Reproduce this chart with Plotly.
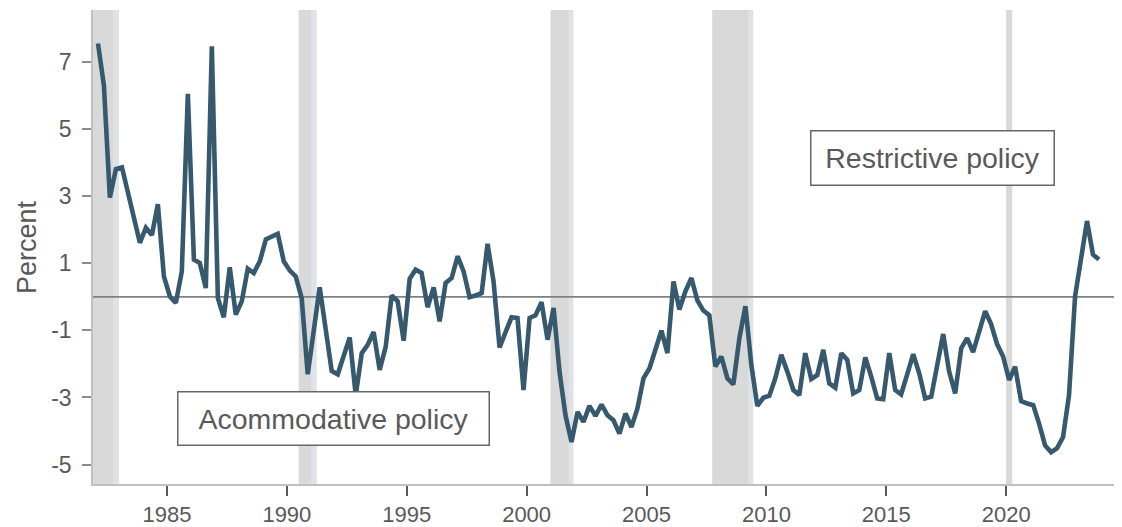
import pandas as pd
import plotly.graph_objects as go

# Quarterly policy-stance measure, 1982Q1 - 2023Q4 (percent)
first_quarter = "1982Q1"
last_quarter = "2023Q4"
stance = [
    7.55, 6.30, 2.96, 3.81, 3.86, 3.16, 2.43, 1.61, 2.06, 1.84,
    2.76, 0.61, 0.01, -0.18, 0.76, 6.05, 1.11, 1.01, 0.26, 7.47,
    -0.04, -0.61, 0.88, -0.53, -0.13, 0.84, 0.71, 1.06, 1.71, 1.81,
    1.88, 1.06, 0.78, 0.61, -0.04, -2.31, -1.01, 0.28, -0.96, -2.21,
    -2.31, -1.76, -1.21, -2.93, -1.68, -1.43, -1.05, -2.18, -1.48, 0.04,
    -0.13, -1.31, 0.54, 0.81, 0.71, -0.31, 0.28, -0.73,
    0.41, 0.56, 1.21, 0.76, -0.01, 0.04, 0.11, 1.58, 0.46, -1.51,
    -1.08, -0.61, -0.63, -2.78, -0.63, -0.55, -0.16, -1.28, -0.33, -2.23,
    -3.53, -4.33, -3.43, -3.73, -3.25, -3.55, -3.21, -3.53,
    -3.68, -4.08, -3.48, -3.88, -3.33, -2.43, -2.13, -1.61, -1.01, -1.68,
    0.46, -0.38, 0.16, 0.56, -0.11, -0.41, -0.55, -2.08, -1.78, -2.43,
    -2.61, -1.23, -0.28, -2.03, -3.25, -3.01, -2.95, -2.43, -1.73,
    -2.23, -2.78, -2.93, -1.68, -2.45, -2.33, -1.58, -2.58, -2.71, -1.68,
    -1.88, -2.88, -2.78, -1.81, -2.38, -3.03, -3.05, -1.68, -2.78, -2.91,
    -2.31, -1.71, -2.28, -3.03, -2.98, -2.03, -1.11,
    -2.23, -2.88, -1.53, -1.23, -1.65, -1.08, -0.43, -0.81, -1.41, -1.78,
    -2.48, -2.08, -3.11, -3.18, -3.23, -3.78, -4.43, -4.63, -4.51, -4.18,
    -2.93, 0.01, 1.21, 2.26, 1.26, 1.11,
]

# Recession shading (main part / final part)
rec_start = ["1981-07-01", "1990-07-01", "2001-01-01", "2007-10-01", "2020-01-01"]
rec_main_end = ["1982-10-01", "1991-01-01", "2001-10-01", "2009-04-01", "2020-04-01"]
rec_end = ["1982-12-31", "1991-04-01", "2001-12-15", "2009-06-15", "2020-04-01"]

y_ticks = [-5, -3, -1, 1, 3, 5, 7]
x_tick_years = [1985, 1990, 1995, 2000, 2005, 2010, 2015, 2020]

label_restrictive = "Restrictive policy"
label_accommodative = "Acommodative policy"

quarters = pd.period_range(first_quarter, last_quarter, freq="Q")
dates = quarters.to_timestamp(how="start") + pd.Timedelta(days=45)

LINE = "#36596e"
TEXT = "#595959"
FONT = "Liberation Sans, Arial"

fig = go.Figure()
fig.add_trace(go.Scatter(x=dates, y=stance, mode="lines",
                         line=dict(color=LINE, width=4.6), showlegend=False,
                         hoverinfo="skip"))

shapes = []
for s, m, e in zip(rec_start, rec_main_end, rec_end):
    shapes.append(dict(type="rect", xref="x", yref="paper", x0=s, x1=e, y0=0, y1=1,
                       fillcolor="#dfe2e6", line=dict(width=0), layer="below"))
    shapes.append(dict(type="rect", xref="x", yref="paper", x0=s, x1=m, y0=0, y1=1,
                       fillcolor="#d9d9d9", line=dict(width=0), layer="below"))
shapes.append(dict(type="line", xref="paper", yref="y", x0=0, x1=1, y0=0, y1=0,
                   line=dict(color="#808080", width=1.8), layer="below"))

annotations = [
    dict(x="2016-12-01", y=4.13, xref="x", yref="y", text=label_restrictive,
         showarrow=False, font=dict(size=28.5, color=TEXT, family=FONT),
         width=224, height=35,
         bgcolor="white", bordercolor="#666666", borderwidth=1.5, borderpad=9),
    dict(x="1991-12-15", y=-3.64, xref="x", yref="y", text=label_accommodative,
         showarrow=False, font=dict(size=28.5, color=TEXT, family=FONT),
         width=292, height=34,
         bgcolor="white", bordercolor="#666666", borderwidth=1.5, borderpad=9),
    dict(x=0, y=0.5, xref="paper", yref="paper", xshift=-66, text="Percent",
         textangle=-90, showarrow=False, xanchor="center", yanchor="middle",
         font=dict(size=27, color=TEXT, family=FONT)),
]

# The page body adds an 8px offset, so the figure is 8px smaller than the window.
fig.update_layout(
    width=1114, height=519,
    margin=dict(l=85, r=0, t=2, b=37),
    paper_bgcolor="white", plot_bgcolor="white",
    font=dict(family=FONT, color=TEXT, size=22),
    shapes=shapes, annotations=annotations,
    xaxis=dict(
        type="date",
        range=["1981-12-01", "2024-10-30"],
        tickvals=[f"{y}-01-01" for y in x_tick_years],
        ticktext=[str(y) for y in x_tick_years],
        ticks="outside", ticklen=10, tickwidth=1.5, tickcolor="#595959",
        showline=True, linecolor="#c0c0c0", linewidth=1.5,
        showgrid=False, zeroline=False,
        tickfont=dict(size=22, color=TEXT),
    ),
    yaxis=dict(
        range=[-5.58, 8.55],
        tickvals=y_ticks, ticktext=[str(v) for v in y_ticks],
        ticks="outside", ticklen=9, tickwidth=1.5, tickcolor="#8c8c8c",
        showline=True, linecolor="#c0c0c0", linewidth=1.5,
        showgrid=False, zeroline=False,
        tickfont=dict(size=23, color=TEXT),
        ticklabelstandoff=6,
    ),
)

fig.write_html("out.html")
